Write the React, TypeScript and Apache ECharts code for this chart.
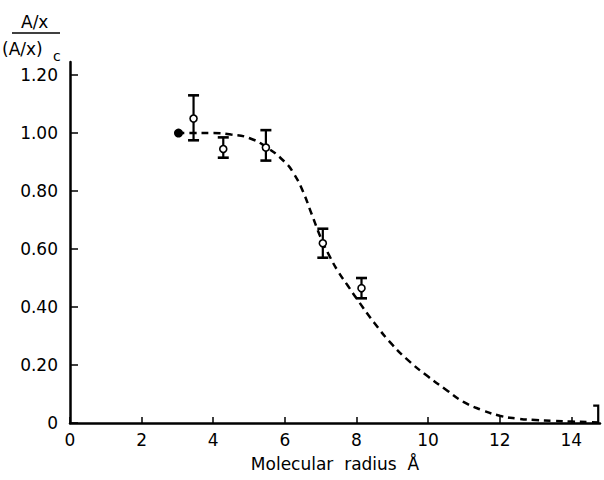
import React, { useEffect, useRef } from "react";
import * as echarts from "echarts";

// Dashed fitted curve
const curveX = [3.0, 3.5, 4.0, 4.5, 5.0, 5.5, 6.0, 6.25, 6.5, 6.75, 7.0, 7.25, 7.5, 7.75, 8.0, 8.5, 9.0, 9.5, 10.0, 10.5, 11.0, 11.5, 12.0, 12.5, 13.0, 13.5, 14.0, 14.5, 14.8];
const curveY = [1.0, 1.0, 1.0, 0.995, 0.983, 0.95, 0.9, 0.86, 0.8, 0.72, 0.64, 0.575, 0.52, 0.475, 0.43, 0.345, 0.27, 0.21, 0.16, 0.115, 0.072, 0.045, 0.025, 0.015, 0.01, 0.007, 0.005, 0.003, 0.002];

// Open-circle measurements with error bars
const pointX = [3.45, 4.28, 5.47, 7.06, 8.14];
const pointY = [1.05, 0.945, 0.95, 0.62, 0.465];
const errLow = [0.975, 0.915, 0.905, 0.57, 0.43];
const errHigh = [1.13, 0.985, 1.01, 0.67, 0.5];

// Reference (filled) point
const refX = [3.03];
const refY = [1.0];

// End bracket
const bracketX = [14.75];
const bracketLow = [0];
const bracketHigh = [0.06];

const xTicks = [0, 2, 4, 6, 8, 10, 12, 14];
const yTicks = [0, 0.2, 0.4, 0.6, 0.8, 1.0, 1.2];

const FONT = "DejaVu Sans";

export default function App() {
  const ref = useRef<HTMLDivElement>(null);
  useEffect(() => {
    if (!ref.current) return;
    const chart = echarts.init(ref.current, null, { renderer: "svg" });
    const curve = curveX.map((x, i) => [x, curveY[i]]);
    const pts = pointX.map((x, i) => [x, pointY[i]]);
    const errs = pointX.map((x, i) => [x, errLow[i], errHigh[i]]);
    const refPts = refX.map((x, i) => [x, refY[i]]);
    const brackets = bracketX.map((x, i) => [x, bracketLow[i], bracketHigh[i]]);

    chart.setOption({
      animation: false,
      backgroundColor: "#fff",
      grid: { left: 70, right: 4, top: 62, bottom: 57 },
      xAxis: {
        type: "value",
        min: 0,
        max: 14.8,
        interval: 2,
        axisLine: { lineStyle: { color: "#000", width: 2.5 } },
        axisTick: { inside: true, length: 6, lineStyle: { color: "#000", width: 1.5 }, customValues: xTicks },
        axisLabel: { customValues: xTicks, color: "#000", fontSize: 17, fontFamily: FONT, margin: 8 },
        splitLine: { show: false },
        name: "Molecular  radius  Å",
        nameLocation: "middle",
        nameGap: 32,
        nameTextStyle: { color: "#000", fontSize: 17, fontFamily: FONT },
      },
      yAxis: {
        type: "value",
        min: 0,
        max: 1.245,
        interval: 0.2,
        axisLine: { lineStyle: { color: "#000", width: 2.5 } },
        axisTick: { inside: true, length: 8, lineStyle: { color: "#000", width: 1.5 }, customValues: yTicks },
        axisLabel: {
          customValues: yTicks,
          color: "#000",
          fontSize: 17,
          fontFamily: FONT,
          margin: 12,
          formatter: (v: number) => (v === 0 ? "0" : v.toFixed(2)),
        },
        splitLine: { show: false },
      },
      graphic: [
        { type: "text", left: 21, top: 13, style: { text: "A/x", fill: "#000", font: `17px ${FONT}` } },
        { type: "line", shape: { x1: 12, y1: 33, x2: 60, y2: 33 }, style: { stroke: "#000", lineWidth: 1.5 } },
        { type: "text", left: 2, top: 40, style: { text: "(A/x)", fill: "#000", font: `17px ${FONT}` } },
        { type: "text", left: 53, top: 49, style: { text: "c", fill: "#000", font: `14px ${FONT}`, lineHeight: 14 } },
      ],
      series: [
        {
          type: "line",
          data: curve,
          smooth: true,
          showSymbol: false,
          lineStyle: { color: "#000", width: 2.5, type: [7, 5] },
          z: 2,
        },
        {
          type: "custom",
          data: errs,
          encode: { x: 0, y: [1, 2] },
          z: 3,
          renderItem: (params: any, api: any) => {
            const x = api.value(0);
            const lo = api.coord([x, api.value(1)]);
            const hi = api.coord([x, api.value(2)]);
            const w = 5.5;
            const style = { stroke: "#000", lineWidth: 2.2 };
            return {
              type: "group",
              children: [
                { type: "line", shape: { x1: lo[0], y1: lo[1], x2: hi[0], y2: hi[1] }, style },
                { type: "line", shape: { x1: hi[0] - w, y1: hi[1], x2: hi[0] + w, y2: hi[1] }, style: { stroke: "#000", lineWidth: 2.6 } },
                { type: "line", shape: { x1: lo[0] - w, y1: lo[1], x2: lo[0] + w, y2: lo[1] }, style: { stroke: "#000", lineWidth: 2.6 } },
              ],
            };
          },
        },
        {
          type: "custom",
          data: brackets,
          encode: { x: 0, y: [1, 2] },
          z: 3,
          renderItem: (params: any, api: any) => {
            const x = api.value(0);
            const lo = api.coord([x, api.value(1)]);
            const hi = api.coord([x, api.value(2)]);
            return {
              type: "polyline",
              shape: { points: [[hi[0] - 5, hi[1]], [hi[0], hi[1]], [lo[0], lo[1]]] },
              style: { stroke: "#000", lineWidth: 2.2, fill: "none" },
            };
          },
        },
        {
          type: "scatter",
          data: pts,
          symbol: "circle",
          symbolSize: 7,
          itemStyle: { color: "#fff", borderColor: "#000", borderWidth: 1.6, opacity: 1 },
          z: 5,
        },
        {
          type: "scatter",
          data: refPts,
          symbol: "circle",
          symbolSize: 9,
          itemStyle: { color: "#000", opacity: 1 },
          z: 5,
        },
      ],
    });
    return () => chart.dispose();
  }, []);
  return <div ref={ref} style={{ position: "fixed", left: 0, top: 0, width: 604, height: 480 }} />;
}
